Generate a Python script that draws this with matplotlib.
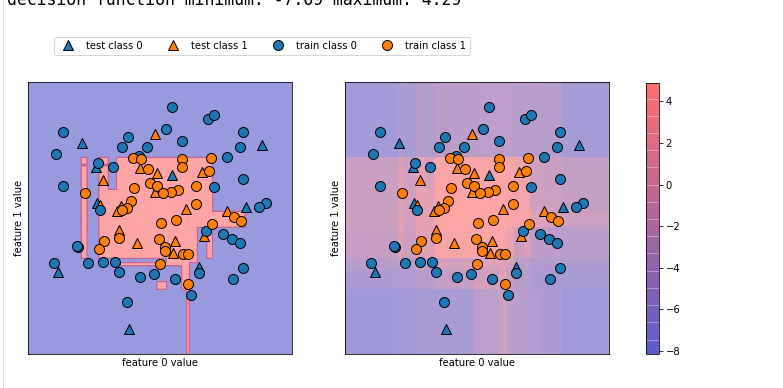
import numpy as np
import matplotlib
matplotlib.use("Agg")
import matplotlib.pyplot as plt
from matplotlib.colors import ListedColormap, LinearSegmentedColormap, Normalize, to_rgb
from matplotlib.cm import ScalarMappable
from matplotlib.lines import Line2D

# ---------------- data ----------------
header = "decision function minimum: -7.69 maximum: 4.29"
legend_labels = ["test class 0", "test class 1", "train class 0", "train class 1"]

train0_x = [0.12, 0.48, 0.54, -0.97, 0.06, 0.83, -0.32, 0.22, -0.38, -0.13,
            0.80, -1.04, -0.21, 0.67, -0.62, -0.47, 0.83, -0.97, 0.54, -0.60,
            1.06, 0.99, 0.46, 0.63, 0.72, 0.80, -0.82, -0.83, -1.06, -0.72,
            -0.57, -0.45, -0.41, -0.20, -0.06, 0.15, 0.39, 0.83, 0.73, 0.31, -0.33]
train0_y = [1.11, 0.99, 1.03, 0.86, 0.89, 0.86, 0.81, 0.77, 0.71, 0.71,
            0.71, 0.64, 0.62, 0.61, 0.55, 0.51, 0.39, 0.32, 0.31, 0.08,
            0.15, 0.11, -0.13, -0.16, -0.21, -0.25, -0.29, -0.28, -0.45, -0.45,
            -0.44, -0.44, -0.54, -0.59, -0.56, -0.61, -0.55, -0.50, -0.61, -0.77, -0.84]

train1_x = [-0.27, -0.19, 0.22, 0.51, 0.22, -0.12, 0.49, -0.10, -0.03, -0.26,
            0.36, 0.18, 0.11, 0.03, -0.75, -0.29, -0.33, -0.38, 0.36, 0.74,
            0.81, 0.16, 0.01, 0.52, -0.56, -0.41, -0.61, -0.01, 0.05, 0.05,
            0.23, 0.28, 0.00, 0.28]
train1_y = [0.60, 0.59, 0.59, 0.60, 0.51, 0.49, 0.47, 0.35, 0.32, 0.30,
            0.32, 0.28, 0.26, 0.25, 0.25, 0.17, 0.10, 0.08, 0.14, 0.01,
            -0.03, -0.02, -0.05, -0.06, -0.23, -0.20, -0.31, -0.21, -0.29, -0.33,
            -0.36, -0.36, -0.46, -0.66]

test0_x = [-0.78, 1.02, 0.12, -0.64, -0.63, 0.86, -1.02, 0.39, -0.31]
test0_y = [0.75, 0.73, 0.43, 0.51, 0.15, 0.11, -0.54, -0.49, -1.11]

test1_x = [-0.05, -0.20, -0.03, 0.42, -0.57, -0.05, -0.60, -0.39, -0.43, 0.26,
           0.67, -0.41, -0.23, 0.15, 0.13, 0.44]
test1_y = [0.84, 0.50, 0.45, 0.46, 0.38, 0.26, 0.13, 0.12, 0.07, 0.09,
           0.07, -0.12, -0.25, -0.23, -0.35, -0.18]

# decision function, piecewise constant on a grid of cells
x_edges = [-1.32, -0.79, -0.73, -0.61, -0.517, -0.433, -0.40, -0.033, 0.067,
           0.217, 0.267, 0.293, 0.373, 0.467, 0.525, 0.64, 0.85, 1.32]
y_edges = [1.36, 0.607, 0.54, 0.52, 0.287, 0.067, -0.093, -0.14, -0.403,
           -0.447, -0.48, -0.52, -0.637, -0.713, -1.36]   # top -> bottom
scores = [
    [-6.8, -5.5, -5.8, -4.5, -5.0, -4.5, -3.8, -3.5, -3.5, -3.3, -3.0, -3.5, -4.2, -3.8, -4.0, -4.2, -6.3],
    [-2.2, 0.6, -1.5, 1.5, -0.8, 3.5, 4.0, 4.1, 4.2, 4.3, 4.4, 4.0, 3.0, 3.2, -1.5, -1.8, -2.8],
    [-2.6, -0.3, -2.0, -0.2, -1.2, 3.2, 3.8, 3.9, 4.0, 4.1, 4.2, 3.8, 2.8, 3.0, -1.8, -2.0, -3.0],
    [-2.0, 0.8, -1.4, 1.6, -0.6, 3.8, 4.4, 4.5, 4.6, 4.6, 4.7, 4.3, 3.3, 3.5, -1.4, -1.6, -2.6],
    [-1.9, 0.9, -1.3, 1.7, 1.2, 3.9, 4.5, 4.6, 4.7, 4.7, 4.8, 4.4, 3.4, 3.6, -1.2, -1.5, -2.5],
    [-1.6, 1.1, -1.0, 2.0, 1.5, 4.1, 4.6, 4.7, 4.8, 4.8, 4.9, 4.6, 3.8, 3.9, 0.8, 0.4, -1.5],
    [-2.2, 0.7, -1.6, 1.4, 1.0, 3.7, 4.3, 4.4, 4.4, 4.5, 4.6, 2.5, -1.5, -1.0, -3.2, -3.5, -3.8],
    [-2.3, 0.6, -1.7, 1.3, 0.9, 3.6, 4.2, 4.3, 4.3, 4.4, 4.5, 2.4, -1.6, 0.6, -3.3, -3.6, -3.9],
    [-4.0, -3.0, -3.6, -2.5, -2.8, -1.5, -0.8, -0.5, 0.8, 1.2, 1.6, 0.4, -3.5, -3.2, -4.5, -4.8, -5.0],
    [-4.2, -3.2, -3.8, -2.7, -3.0, -1.7, 0.3, 0.4, 0.7, 1.1, 1.5, -0.6, -3.7, -3.4, -4.7, -5.0, -5.2],
    [-4.5, -3.6, -4.1, -3.0, -3.3, -2.0, -1.2, -0.8, -0.4, 0.8, 1.3, -1.0, -4.0, -3.7, -5.0, -5.3, -5.5],
    [-5.5, -4.8, -5.0, -4.2, -4.4, -3.5, -2.8, -1.2, -1.0, 0.5, 1.0, -2.0, -4.5, -4.3, -5.5, -5.8, -6.0],
    [-5.4, -4.7, -4.9, -4.1, -4.3, -3.4, -2.5, 0.3, -0.8, 0.6, 1.0, -1.8, -4.3, -4.1, -5.3, -5.6, -5.9],
    [-7.3, -6.5, -6.5, -6.0, -6.0, -6.0, -6.0, -3.5, -3.5, -2.0, 0.3, -3.5, -4.0, -4.0, -4.8, -5.5, -7.0],
]
score_min, score_max = -8.14, 4.91
cbar_ticks = [-8, -6, -4, -2, 0, 2, 4]
cbar_stripes = [4.12, 3.31, 2.48, 1.68, 0.83, 0.0, -0.83, -1.65, -2.45, -3.28,
                -4.13, -4.96, -5.78, -6.6, -7.45]

# ---------------- figure ----------------
W, H = 783, 388
DPI = 72
fig = plt.figure(figsize=(W / DPI, H / DPI), dpi=DPI)


def px_axes(l, t, r, b):
    return fig.add_axes([l / W, 1 - b / H, (r - l) / W, (b - t) / H])


ax0 = px_axes(28, 82, 292, 354)
ax1 = px_axes(345, 82, 609, 354)
cax = px_axes(646, 82.5, 658.5, 354)

blue, orange = "#1f77b4", "#ff7f0e"
cm2 = ListedColormap(["#0000aa", "#ff2020"])
ReBl = LinearSegmentedColormap.from_list("ReBl", ["#0000aa", "#ff2020"])
norm = Normalize(score_min, score_max)
xlim = (x_edges[0], x_edges[-1])
ylim = (y_edges[-1], y_edges[0])

# evaluate the piecewise-constant function on a fine grid (left panel)
xa = np.array(x_edges)
ya = np.array(y_edges)[::-1]
Z = np.array(scores)[::-1]
xs = np.linspace(xlim[0], xlim[1], 1000)
ys = np.linspace(ylim[0], ylim[1], 1000)
ix = np.clip(np.searchsorted(xa, xs, side="right") - 1, 0, len(xa) - 2)
iy = np.clip(np.searchsorted(ya, ys, side="right") - 1, 0, len(ya) - 2)
Zf = Z[np.ix_(iy, ix)]

ax0.contourf(xs, ys, Zf, levels=[Zf.min() - 1, 0, Zf.max() + 1], cmap=cm2, alpha=0.4)
ax0.contour(xs, ys, Zf, levels=[0], colors="#c8648f", linewidths=1.0)

ax1.pcolormesh(x_edges, y_edges, scores, cmap=ReBl, norm=norm, alpha=0.4,
               shading="flat", antialiased=False)

for ax in (ax0, ax1):
    ax.plot(test0_x, test0_y, "^", ms=10, color=blue, mec="k", mew=1, label=legend_labels[0])
    ax.plot(test1_x, test1_y, "^", ms=10, color=orange, mec="k", mew=1, label=legend_labels[1])
    ax.plot(train0_x, train0_y, "o", ms=10, color=blue, mec="k", mew=1, label=legend_labels[2])
    ax.plot(train1_x, train1_y, "o", ms=10, color=orange, mec="k", mew=1, label=legend_labels[3])
    ax.set_xlim(*xlim)
    ax.set_ylim(*ylim)
    ax.set_xticks([])
    ax.set_yticks([])
    ax.set_xlabel("feature 0 value", fontsize=10)
    ax.set_ylabel("feature 1 value", fontsize=10)

ax0.legend(ncol=4, loc=(0.1, 1.1), fontsize=10)

# colorbar (drawn with the doubled transparency seen in the reference)
def blend(c, a):
    r = np.array(to_rgb(c))
    return tuple(1 - a + a * r)

cb_cmap = LinearSegmentedColormap.from_list("cb", [blend("#0000aa", 0.64), blend("#ff2020", 0.64)])
sm = ScalarMappable(norm=norm, cmap=cb_cmap)
cb = fig.colorbar(sm, cax=cax, ticks=cbar_ticks)
cb.ax.tick_params(labelsize=10)
for v in cbar_stripes:
    cax.axhline(v, color="white", alpha=0.35, lw=1)

fig.text(7 / W, 1 - 5 / H, header, family="DejaVu Sans Mono", fontsize=16.5,
         va="baseline", ha="left")
fig.add_artist(Line2D([3 / W, 3 / W], [0, 1], transform=fig.transFigure,
                      color="#e0e0e0", lw=1))

fig.savefig("out.png", dpi=DPI)
